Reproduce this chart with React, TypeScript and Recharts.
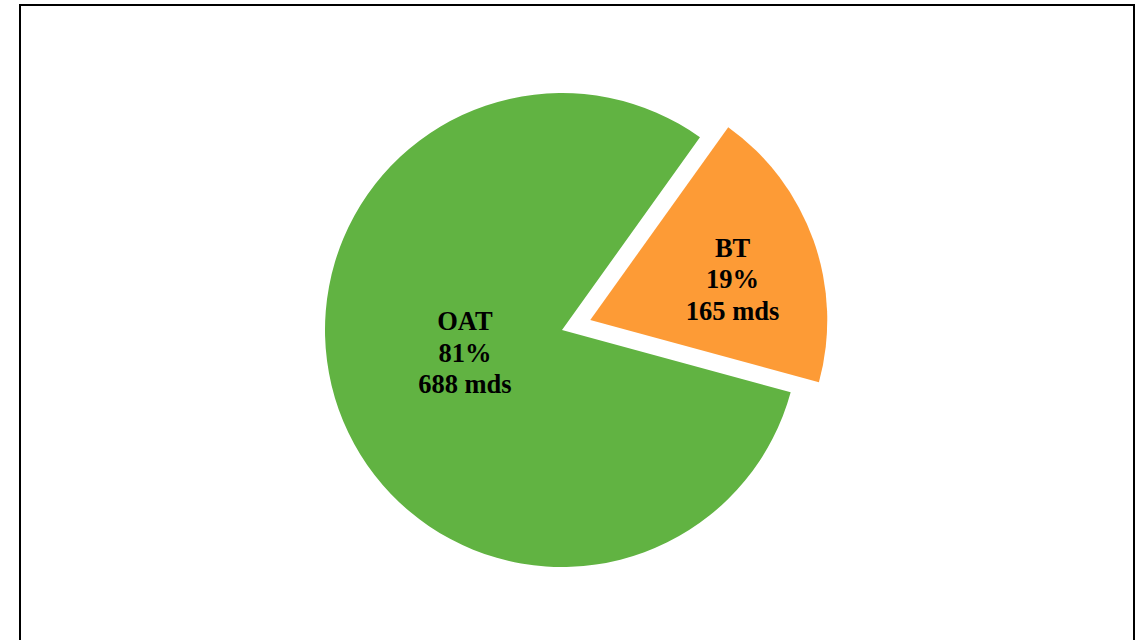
import React from "react";
import { PieChart, Pie, Cell } from "recharts";

const categories = ["BT", "OAT"];
const values = [165, 688];
const unitLabel = "mds";
const colors = ["#fd9b36", "#61b342"];

const data = categories.map((name, i) => ({ name, value: values[i] }));

const WIDTH = 1143;
const HEIGHT = 640;
const CX = 562;
const CY = 330;
const R = 237;
const START = 54.4;
const EXPLODED = "BT";
const EXPLODE_DIST = 30;

const total = values.reduce((a, b) => a + b, 0);
const explodedIdx = categories.indexOf(EXPLODED);
const before = values.slice(0, explodedIdx).reduce((a, b) => a + b, 0);
const explodedMid = START - ((before + values[explodedIdx] / 2) / total) * 360;
const RAD = Math.PI / 180;
const ECX = CX + EXPLODE_DIST * Math.cos(explodedMid * RAD);
const ECY = CY - EXPLODE_DIST * Math.sin(explodedMid * RAD);

const labelPlacement: Record<string, { r: number; da: number }> = {
  OAT: { r: 0.42, da: -6.8 },
  BT: { r: 0.625, da: -3.5 },
};

const makeLabel = (visible: (name: string) => boolean) => (props: any) => {
  const { cx, cy, midAngle, outerRadius, percent, payload } = props;
  const name = payload?.name ?? props.name;
  if (!visible(name)) return <g />;
  const p = labelPlacement[name] || { r: 0.5, da: 0 };
  const a = (midAngle + p.da) * RAD;
  const x = cx + outerRadius * p.r * Math.cos(a);
  const y = cy - outerRadius * p.r * Math.sin(a);
  const lines = [name, `${Math.round(percent * 100)}%`, `${payload?.value ?? props.value} ${unitLabel}`];
  return (
    <text
      textAnchor="middle"
      fontFamily="'Liberation Serif', 'Times New Roman', serif"
      fontWeight="bold"
      fontSize={26.5}
      fill="#000"
    >
      {lines.map((l, i) => (
        <tspan key={i} x={x} y={y + 9.5 + (i - 1) * 31.5}>
          {l}
        </tspan>
      ))}
    </text>
  );
};

export default function App() {
  return (
    <div style={{ position: "absolute", left: 0, top: 0, width: WIDTH, height: HEIGHT, overflow: "hidden", background: "#fff" }}>
      <div
        style={{
          position: "absolute",
          left: 19,
          top: 4,
          width: 1112,
          height: 700,
          border: "2px solid #000",
          boxSizing: "content-box",
        }}
      />
      <div style={{ position: "absolute", left: 0, top: 0 }}>
        <PieChart width={WIDTH} height={HEIGHT} margin={{ top: 0, right: 0, bottom: 0, left: 0 }}>
          <Pie
            data={data}
            dataKey="value"
            nameKey="name"
            cx={CX}
            cy={CY}
            outerRadius={R}
            startAngle={START}
            endAngle={START - 360}
            isAnimationActive={false}
            labelLine={false}
            label={makeLabel((n) => n !== EXPLODED)}
            stroke="none"
          >
            {data.map((d, i) => (
              <Cell key={d.name} fill={d.name === EXPLODED ? "transparent" : colors[i]} stroke="none" />
            ))}
          </Pie>
          <Pie
            data={data}
            dataKey="value"
            nameKey="name"
            cx={ECX}
            cy={ECY}
            outerRadius={R}
            startAngle={START}
            endAngle={START - 360}
            isAnimationActive={false}
            labelLine={false}
            label={makeLabel((n) => n === EXPLODED)}
            stroke="none"
          >
            {data.map((d, i) => (
              <Cell key={d.name} fill={d.name === EXPLODED ? colors[i] : "transparent"} stroke="none" />
            ))}
          </Pie>
        </PieChart>
      </div>
    </div>
  );
}
